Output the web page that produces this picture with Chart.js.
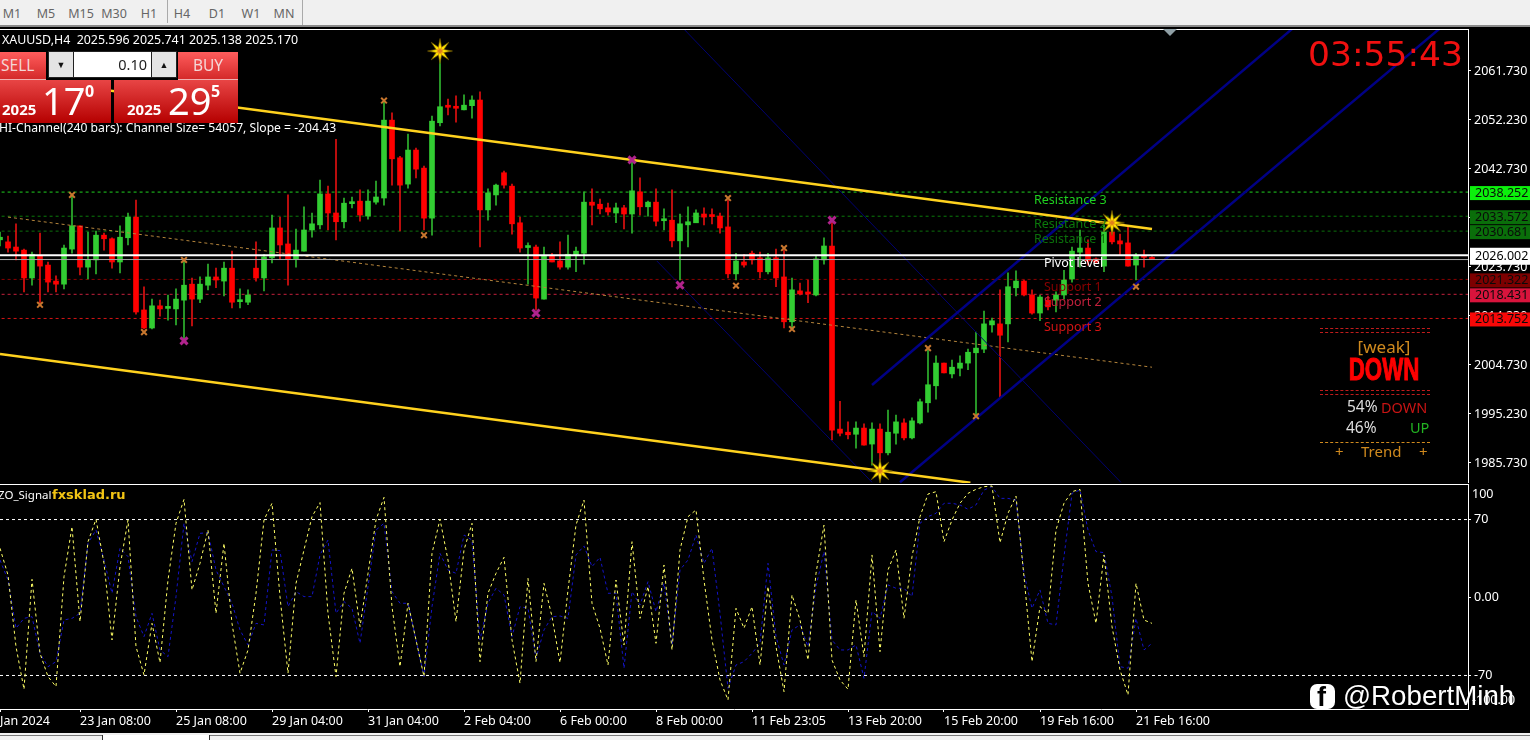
<!DOCTYPE html>
<html><head><meta charset="utf-8"><title>XAUUSD,H4</title>
<script src="https://cdn.jsdelivr.net/npm/chart.js@4"></script>
<style>
html,body{margin:0;padding:0;background:#000;width:1530px;height:740px;overflow:hidden;font-family:"Noto Sans",sans-serif}
canvas{position:absolute;left:0;display:block}
.a{position:absolute;white-space:nowrap;line-height:1}
#bar{position:absolute;left:0;top:0;width:1530px;height:25px;background:#f0f0f0;border-bottom:2px solid #8a8a8a}
#bar span{position:absolute;top:5px;font-size:12.5px;color:#666;transform:translateX(-50%)}
.red{position:absolute;background:linear-gradient(#e84545,#b50000);color:#fff}
.btn{position:absolute;background:linear-gradient(#ff5c5c,#d42a2a);color:#f4d6d6;font-size:15.5px;text-align:center;line-height:26px;border-bottom:1px solid #f0b0b0}
.sp{position:absolute;top:52px;height:25px;background:#e4e4e4;color:#111;font-size:9px;line-height:25px;text-align:center}
.eq{position:absolute;left:1320px;width:110px;height:5px;border-top:1.5px dashed #c01c1c;border-bottom:1.5px dashed #c01c1c;box-sizing:border-box}
</style></head><body>
<canvas id="priceChart" width="1530" height="454" style="top:29px;width:1530px;height:454px"></canvas>
<canvas id="oscChart" width="1530" height="254" style="top:484px;width:1530px;height:254px"></canvas>
<div id="bar">
<span style="left:12px">M1</span><span style="left:46px">M5</span><span style="left:81px">M15</span><span style="left:114px">M30</span><span style="left:149px">H1</span>
<span style="left:182px">H4</span><span style="left:217px">D1</span><span style="left:251px">W1</span><span style="left:284px">MN</span>
<div style="position:absolute;left:167px;top:0;width:1px;height:23px;background:#aaa"></div>
<div style="position:absolute;left:302px;top:0;width:1px;height:25px;background:#aaa"></div>
</div>
<div style="position:absolute;left:0;top:29px;width:1468px;height:1px;background:#fff"></div>
<div style="position:absolute;left:1163px;top:29px;width:0;height:0;border-left:7px solid transparent;border-right:7px solid transparent;border-top:7px solid #8f9fa5"></div>
<div class="a" style="left:2px;top:34px;color:#fff;font-size:12.4px">XAUUSD,H4&nbsp; 2025.596 2025.741 2025.138 2025.170</div>
<div class="a" style="left:-1px;top:122px;color:#fff;font-size:12.15px">HI-Channel(240 bars): Channel Size= 54057, Slope = -204.43</div>
<div class="btn" style="left:0;top:52px;width:46px;height:27px;text-align:left;text-indent:1px">SELL</div>
<div class="btn" style="left:178px;top:52px;width:60px;height:27px">BUY</div>
<div style="position:absolute;left:48px;top:51px;width:129px;height:27px;background:#222"></div>
<div class="sp" style="left:49px;width:24px">▼</div>
<div class="sp" style="left:152px;width:24px">▲</div>
<div class="a" style="left:74px;top:52px;width:77px;height:25px;background:#fff;color:#222;font-size:14.5px;line-height:25px;text-align:right;box-sizing:border-box;padding-right:4px">0.10</div>
<div class="red" style="left:0;top:80px;width:111px;height:43px"></div>
<div class="red" style="left:114px;top:80px;width:124px;height:43px"></div>
<div class="a" style="left:2px;top:102px;color:#fff;font-size:15px;font-weight:700">2025</div>
<div class="a" style="left:42px;top:81px;color:#fff;font-size:38px">17</div>
<div class="a" style="left:85px;top:83px;color:#fff;font-size:16px;font-weight:700">0</div>
<div class="a" style="left:127px;top:102px;color:#fff;font-size:15px;font-weight:700">2025</div>
<div class="a" style="left:168px;top:81px;color:#fff;font-size:38px">29</div>
<div class="a" style="left:211px;top:83px;color:#fff;font-size:16px;font-weight:700">5</div>
<div class="a" style="left:1308px;top:37px;color:#f01010;font-size:34.5px;font-family:'DejaVu Sans'">03:55:43</div>
<div class="eq" style="top:328px"></div>
<div class="a" style="left:1320px;width:130px;margin-left:-1px;top:338px;text-align:center;color:#d08a1e;font-size:17px">[weak]</div>
<div class="a" style="left:1320px;width:130px;margin-left:-1px;top:354px;text-align:center;color:#f00;font-size:31px;font-weight:700;font-family:'Liberation Sans';-webkit-text-stroke:1px #f00;transform:scaleX(.72)">DOWN</div>
<div class="eq" style="top:390px"></div>
<div class="a" style="left:1347px;top:399px;color:#ddd;font-size:15.5px">54%</div>
<div class="a" style="left:1381px;top:400px;color:#c81414;font-size:14.5px">DOWN</div>
<div class="a" style="left:1346px;top:420px;color:#ddd;font-size:15.5px">46%</div>
<div class="a" style="left:1410px;top:420px;color:#22b422;font-size:14.5px">UP</div>
<div style="position:absolute;left:1320px;top:442px;width:110px;border-top:1px dashed #d08a1e"></div>
<div class="a" style="left:1335px;top:444px;color:#d08a1e;font-size:15px">+</div>
<div class="a" style="left:1361px;top:444px;color:#d08a1e;font-size:15px">Trend</div>
<div class="a" style="left:1419px;top:444px;color:#d08a1e;font-size:15px">+</div>
<div class="a" style="left:-2px;top:489px;color:#fff;font-size:11.5px">ZO_Signal</div>
<div class="a" style="left:52px;top:488px;color:#f2c414;font-size:13px;font-weight:700;font-family:'DejaVu Sans'">fxsklad.ru</div>
<div style="position:absolute;left:1310px;top:684px;width:25px;height:25px;border-radius:7px;background:#fff"></div>
<div class="a" style="left:1317px;top:684px;color:#000;font-size:27px;font-weight:700;font-family:'Liberation Sans'">f</div>
<div class="a" style="left:1343px;top:682px;color:#fff;font-size:27.7px;font-family:'Liberation Sans'">@RobertMinh</div>
<div style="position:absolute;left:0;top:733px;width:1530px;height:7px;background:#f0f0f0"></div>
<div style="position:absolute;left:102px;top:735px;width:106px;height:5px;background:#fff;border-left:1px solid #333;border-right:1px solid #333"></div>
<div style="position:absolute;left:0;top:735px;width:102px;height:1px;background:#777"></div>
<div style="position:absolute;left:210px;top:735px;width:1320px;height:1px;background:#777"></div>
<script>
// ---- candle data (price units) ----
const opens=[2029.0,2028.6,2027.6,2027.0,2021.6,2025.9,2024.1,2021.0,2020.4,2027.2,2031.7,2023.7,2025.1,2029.9,2029.2,2024.7,2029.4,2033.4,2015.4,2011.9,2016.2,2015.7,2015.6,2017.3,2020.4,2017.5,2020.2,2021.8,2021.0,2023.5,2017.0,2016.9,2023.5,2021.6,2025.5,2031.3,2028.2,2025.3,2026.8,2030.9,2031.9,2037.9,2034.2,2032.5,2036.0,2036.5,2033.6,2036.3,2037.1,2052.2,2044.9,2039.8,2046.4,2042.9,2033.2,2051.7,2054.8,2054.6,2054.2,2055.0,2056.1,2034.8,2037.7,2042.0,2039.4,2032.3,2027.5,2027.6,2017.5,2025.9,2024.9,2023.7,2026.1,2026.4,2036.3,2035.9,2035.2,2034.2,2035.2,2034.0,2038.3,2035.4,2036.3,2032.7,2032.8,2028.8,2031.9,2032.3,2034.0,2033.6,2033.6,2031.5,2022.4,2024.7,2026.4,2025.5,2022.8,2025.5,2021.8,2013.1,2019.1,2018.6,2018.3,2025.1,2027.8,1992.3,1991.7,1991.3,1992.5,1989.4,1992.3,1987.7,1991.5,1993.5,1990.6,1993.5,1997.4,2000.7,2005.1,2003.0,2004.1,2005.1,2007.1,2007.8,2012.5,2012.7,2012.7,2019.7,2021.0,2018.3,2014.8,2017.3,2017.3,2018.3,2021.4,2026.6,2027.4,2025.3,2023.9,2030.5,2028.8,2028.4,2024.1,2025.8,2025.596];
const highs=[2030.5,2029.7,2032.1,2027.2,2026.6,2030.3,2024.7,2022.0,2028.0,2037.7,2031.7,2030.5,2030.7,2030.3,2029.4,2031.7,2034.2,2036.7,2019.9,2017.5,2017.3,2018.3,2019.5,2025.1,2021.6,2021.8,2024.3,2023.5,2024.7,2026.8,2019.5,2019.3,2028.6,2026.2,2033.8,2033.4,2037.7,2031.1,2035.4,2034.2,2040.6,2039.4,2048.5,2037.1,2037.3,2038.7,2038.7,2040.4,2056.1,2053.6,2045.2,2049.5,2046.8,2043.3,2053.0,2063.9,2056.3,2056.9,2057.1,2056.9,2057.7,2038.9,2039.8,2042.3,2039.8,2033.4,2028.4,2028.0,2027.6,2026.4,2028.6,2029.9,2027.6,2038.3,2038.9,2036.9,2036.1,2036.1,2035.7,2044.5,2041.0,2036.5,2038.9,2035.0,2038.7,2034.0,2035.4,2034.8,2035.2,2035.0,2034.2,2036.7,2026.4,2026.2,2026.8,2026.6,2026.4,2027.2,2027.0,2021.6,2020.6,2021.2,2025.9,2029.4,2032.8,1997.7,1993.7,1993.7,1993.3,1993.5,1993.3,1996.0,1995.0,1994.3,1994.5,1998.1,2007.6,2006.5,2005.1,2005.7,2006.5,2007.8,2011.1,2015.2,2013.8,2019.3,2022.6,2023.0,2021.2,2019.3,2018.3,2018.1,2018.9,2023.1,2027.6,2030.9,2029.0,2025.5,2031.9,2032.8,2030.1,2031.5,2026.4,2027.0,2025.741];
const lows=[2027.8,2026.6,2025.1,2018.9,2020.2,2016.8,2018.9,2018.9,2019.5,2026.4,2022.2,2021.4,2022.4,2027.0,2023.5,2022.6,2028.0,2014.6,2011.7,2011.7,2014.2,2013.4,2012.5,2009.6,2012.3,2016.8,2019.3,2019.7,2018.1,2015.8,2015.8,2016.4,2021.0,2019.1,2024.5,2025.3,2020.2,2023.7,2026.8,2029.5,2031.1,2030.9,2029.0,2031.3,2035.2,2032.6,2033.0,2035.9,2035.7,2039.6,2030.7,2039.0,2041.0,2030.9,2029.9,2051.1,2053.2,2051.8,2054.2,2052.6,2027.6,2032.8,2035.7,2039.0,2030.1,2026.6,2020.4,2015.4,2017.5,2024.7,2023.3,2023.3,2022.8,2024.3,2031.9,2034.0,2033.8,2032.3,2031.1,2030.3,2033.8,2033.6,2031.7,2030.9,2027.6,2021.2,2027.6,2032.3,2031.9,2032.1,2030.3,2021.6,2021.2,2023.7,2024.3,2021.6,2022.4,2019.9,2011.9,2011.9,2018.3,2016.8,2018.1,2024.3,1990.2,1991.0,1990.4,1988.6,1989.2,1985.3,1986.3,1987.3,1989.4,1990.2,1990.4,1993.3,1995.6,1998.1,2003.2,2002.2,2002.6,2003.8,1995.0,2007.1,2011.1,1998.5,2009.2,2018.1,2018.1,2014.6,2013.3,2015.4,2015.0,2017.5,2020.8,2023.7,2024.1,2024.5,2022.8,2028.2,2026.1,2023.9,2021.2,2023.7,2025.138];
const closes=[2029.5,2027.4,2026.8,2021.6,2026.2,2023.9,2020.8,2020.4,2027.4,2031.7,2023.7,2025.1,2029.9,2029.2,2024.7,2029.5,2033.4,2015.0,2011.9,2016.2,2015.6,2015.8,2017.5,2020.2,2017.5,2020.4,2021.8,2021.2,2023.5,2016.9,2017.1,2018.3,2021.6,2025.7,2031.3,2028.0,2025.3,2027.0,2030.9,2032.1,2037.9,2034.2,2032.5,2036.1,2036.1,2033.8,2036.5,2037.3,2052.2,2044.7,2039.6,2046.4,2042.7,2033.2,2052.0,2054.8,2054.7,2054.5,2055.1,2056.1,2034.8,2038.1,2039.6,2039.6,2032.1,2027.4,2027.6,2017.7,2025.9,2024.7,2023.7,2026.2,2026.8,2036.3,2035.7,2035.0,2034.4,2035.2,2034.0,2038.5,2035.4,2036.3,2032.6,2032.8,2028.8,2032.1,2032.5,2034.2,2033.4,2033.5,2031.3,2022.4,2024.9,2024.1,2025.1,2022.8,2025.5,2021.6,2013.1,2019.3,2018.5,2018.5,2025.3,2027.8,1992.1,1991.5,1991.2,1992.5,1989.2,1992.3,1987.7,1991.7,1993.7,1990.6,1993.9,1997.6,2000.9,2005.1,2003.2,2004.3,2005.1,2007.2,2008.0,2012.7,2013.3,2010.5,2019.9,2021.0,2018.3,2014.8,2017.9,2016.0,2018.3,2021.2,2026.8,2027.4,2024.9,2024.7,2030.5,2028.6,2028.2,2023.9,2025.9,2025.6,2025.170];

// ---- oscillator series ----
const oscYellow=[44.2,20.2,-44.1,-82.4,16.3,-50.1,-71.0,-80.0,18.7,63.6,-21.7,50.1,70.2,30.7,-38.1,27.7,69.6,-44.1,-69.5,-23.2,-58.5,15.7,66.6,88.1,6.8,30.7,60.6,-14.2,48.7,-23.2,-68.0,-47.1,3.8,69.6,84.6,0.8,-68.0,12.7,42.7,72.6,85.2,-14.2,-71.0,3.8,26.2,-26.1,21.7,69.6,89.9,-8.2,-62.1,-5.2,-38.1,-71.0,39.7,70.2,33.7,-21.7,42.7,66.6,-57.6,3.8,21.7,36.1,-38.1,-77.0,17.2,-57.6,12.7,-17.2,-58.5,6.8,65.1,87.5,-5.2,-27.6,-60.6,15.7,-42.6,50.1,-18.7,9.8,-41.1,29.2,-47.1,42.7,72.6,78.6,15.7,-38.1,-74.0,-92.0,-9.7,-27.6,-8.2,-60.6,9.8,-44.1,-84.5,2.3,-20.2,-56.1,21.7,65.1,-56.1,-74.0,-82.4,-2.2,-53.1,38.2,-48.6,24.7,42.7,-18.7,36.7,72.6,92.9,95.0,50.1,69.6,84.6,93.5,97.1,99.5,100.1,49.2,75.6,91.1,18.7,-57.6,-8.2,-14.2,60.6,84.6,95.0,97.1,12.7,-23.2,38.2,-26.1,-65.0,-87.5,12.7,-20.2,-23.2];
const oscBlue=[33.7,15.7,-27.6,-18.7,-17.2,-50.1,-62.1,-57.6,-20.2,-18.7,-14.2,48.7,60.6,33.7,3.8,44.2,36.7,-17.2,-35.1,-14.2,-47.1,-53.1,0.8,66.6,32.2,57.6,58.2,24.7,9.8,-5.2,-29.1,-42.6,-23.2,-24.6,42.7,42.1,-8.2,5.3,0.8,0.8,38.2,51.6,-14.2,-3.7,-9.7,-41.1,9.8,60.6,66.6,5.3,-5.2,-5.2,-38.1,-71.0,-8.2,39.7,24.7,21.7,56.1,51.6,-38.1,-5.2,8.3,2.3,-35.1,-8.2,-9.7,-54.6,-29.1,-17.2,-16.6,-18.7,38.2,46.3,27.7,36.1,3.8,3.8,-63.5,5.3,-6.7,14.2,-12.7,12.7,-42.6,24.7,33.7,56.1,30.7,44.2,-14.2,-81.5,-60.6,-57.6,-50.1,-41.1,30.7,-35.1,-60.6,-29.1,-24.6,-44.1,9.8,41.2,-38.1,-47.1,-47.1,-42.6,-72.5,-12.7,-18.7,11.3,8.3,8.3,0.8,66.6,72.6,75.6,84.6,84.6,83.1,79.2,83.1,96.5,99.5,89.0,89.0,87.5,21.7,-9.7,6.8,-23.2,-24.6,36.7,93.5,96.5,60.6,41.2,40.3,0.8,-62.1,-63.5,-18.7,-47.1,-41.1];

// ---- axes ----
const priceTicks=[2061.73,2052.23,2042.73,2033.23,2023.73,2014.23,2004.73,1995.23,1985.73];
const oscTicks=[70,0,-70];
const oscTickLabels=["70","0.00","-70"];
const oscEndValues=[100,-100];
const oscEndLabels=["100","-100.00"];
const xTickBars=[0,10,22,34,46,58,70,82,94,106,118,130,142];
const xTickLabels=["Jan 2024","23 Jan 08:00","25 Jan 08:00","29 Jan 04:00","31 Jan 04:00","2 Feb 04:00","6 Feb 00:00","8 Feb 00:00","11 Feb 23:05","13 Feb 20:00","15 Feb 20:00","19 Feb 16:00","21 Feb 16:00"];

// ---- levels ----
const levelValues=[2038.252,2033.572,2030.681,2026.002,2021.322,2018.431,2013.752];
const levelNames=["Resistance 3","Resistance 2","Resistance 1","Pivot level","Support 1","Support 2","Support 3"];
const levelColors=["#1fd01f","#0b7a0b","#0b6f0b","#ffffff","#8b0000","#c2203c","#d41414"];
const tagColors=["#0cf00c","#0a6e0a","#0a6e0a","#ffffff","#7d0000","#d8143c","#f80808"];
const lastPrice=2025.170;

// ---- channels: [bar, price] end points ----
const yellowTop=[[0,2060.76],[144,2031.1]];
const yellowBottom=[[0,2006.86],[121.3,1981.9]];
const midDotted=[[1,2033.4],[144,2004.3]];
const blueUpper=[[109,2000.85],[161.6,2070.0]];
const blueLower=[[112.5,1982.0],[180,2070.0]];
const thinA=[[85.4,2070.0],[140.1,1982.0]];
const thinB=[[82.1,2024.9],[109,1982.0]];

// ---- fractal markers: [bar, price] ----
const orangeMarks=[[9,2037.7],[5,2016.4],[18,2011.1],[23,2025.1],[48,2056.0],[53,2029.9],[91,2037.1],[92,2020.1],[98,2027.4],[99,2011.7],[116,2008.0],[122,1994.8],[142,2019.9]];
const magentaMarks=[[23,2009.4],[67,2014.8],[79,2044.5],[85,2020.2],[104,2032.8]];
const starMarks=[[55,2065.6],[110,1984.2],[139,2032.3]];

Chart.defaults.font.family='"Noto Sans",sans-serif';
Chart.defaults.font.size=12.5;
Chart.defaults.color='#fff';

const pts=a=>a.map(p=>({x:p[0],y:p[1]}));
function seg(data,color,width,dash,order){return {type:'line',data:pts(data),borderColor:color,borderWidth:width,borderDash:dash||[],pointRadius:0,order:order,fill:false,tension:0};}
const isUp=i=>closes[i]>=opens[i];
const noPad=s=>{s.paddingTop=0;s.paddingBottom=0;s.paddingLeft=0;s.paddingRight=0;};
const starImg=(()=>{const s=26,c=document.createElement('canvas');c.width=c.height=s;const g=c.getContext('2d');
 g.translate(s/2,s/2);g.beginPath();for(let k=0;k<16;k++){const r=k%2?4.2:12.5,t=k*Math.PI/8-Math.PI/2;g.lineTo(r*Math.cos(t),r*Math.sin(t));}g.closePath();
 g.fillStyle='#ffe600';g.fill();g.strokeStyle='#6a5200';g.lineWidth=.7;g.stroke();
 g.beginPath();for(let k=0;k<16;k++){const r=k%2?1.8:6,t=k*Math.PI/8-Math.PI/2+Math.PI/8;g.lineTo(r*Math.cos(t),r*Math.sin(t));}g.closePath();g.fillStyle='#e0801a';g.fill();return c;})();

const levelDatasets=levelValues.map((v,i)=>i===3?null:seg([[0.2,v],[183.5,v]],levelColors[i],1,[3,3],50)).filter(Boolean);
const bars=opens.map((_,i)=>i);

new Chart(document.getElementById('priceChart'),{
 data:{datasets:[
  ...levelDatasets,
  {type:'bar',data:bars.map(i=>({x:i,y:[lows[i],highs[i]]})),backgroundColor:bars.map(i=>isUp(i)?'#2fb52f':'#e01010'),barThickness:1,grouped:false,order:30},
  {type:'bar',data:bars.map(i=>({x:i,y:[opens[i],closes[i]]})),backgroundColor:bars.map(i=>isUp(i)?'#32cd32':'#ff0000'),barThickness:5,grouped:false,minBarLength:2,order:29},
  seg(midDotted,'#b5853c',1,[3,3],20),
  seg(thinA,'#000070',1,[],19),
  seg(thinB,'#000070',1,[],19),
  seg(blueUpper,'#000085',2.5,[],18),
  seg(blueLower,'#000085',2.5,[],18),
  seg(yellowTop,'#ffd21e',2.5,[],17),
  seg(yellowBottom,'#ffd21e',2.5,[],17),
  seg([[0,lastPrice],[183.5,lastPrice]],'#a8a8a8',1,[],16),
  seg([[0,levelValues[3]],[183.5,levelValues[3]]],'#ffffff',2,[],15),
  {type:'scatter',data:pts(orangeMarks),pointStyle:'crossRot',pointRadius:4,borderColor:'#c9772e',pointBorderWidth:2,order:6},
  {type:'scatter',data:pts(magentaMarks),pointStyle:'crossRot',pointRadius:5,borderColor:'#b0238c',pointBorderWidth:3,order:5},
  {type:'scatter',data:pts(starMarks),pointStyle:starImg,pointRadius:13,order:4}
 ]},
 options:{responsive:false,animation:false,devicePixelRatio:1,layout:{padding:0,autoPadding:false},
  plugins:{legend:{display:false},tooltip:{enabled:false}},
  scales:{
   x:{type:'linear',display:false,min:0,max:183.5,offset:false,grid:{display:false}},
   y:{type:'linear',position:'right',min:1981.85,max:2069.87,
     afterFit:s=>{s.width=62;noPad(s)},
     afterBuildTicks:s=>{s.ticks=priceTicks.map(v=>({value:v}))},
     border:{color:'#fff',width:1},
     grid:{drawOnChartArea:false,color:'#fff',tickLength:3},
     ticks:{color:'#fff',padding:3,autoSkip:false,callback:v=>v.toFixed(3)}}
  }},
 plugins:[{id:'levelText',afterDatasetsDraw(c){const g=c.ctx,y=c.scales.y;g.save();g.font='12.5px "Noto Sans"';g.textBaseline='middle';g.textAlign='left';
   levelNames.forEach((t,i)=>{g.fillStyle=levelColors[i];g.fillText(t,i<3?1034:1044,y.getPixelForValue(levelValues[i])+8.5);});g.restore();},
  afterDraw(c){const g=c.ctx,y=c.scales.y;g.save();g.font='12.5px "Noto Sans"';g.textBaseline='middle';g.textAlign='left';
   levelValues.forEach((v,i)=>{const p=y.getPixelForValue(v)+1,h=i===3?17:14;g.fillStyle=tagColors[i];g.fillRect(1470,p-h/2,60,h);g.fillStyle=i===3?'#000':'#0a0a0a';g.fillText(v.toFixed(3),1475,p);});g.restore();}}]
});

new Chart(document.getElementById('oscChart'),{
 data:{datasets:[
  seg([[0,70],[183.5,70]],'#fff',1,[3,3],3),
  seg([[0,-70],[183.5,-70]],'#fff',1,[3,3],3),
  {type:'line',data:oscBlue.map((v,i)=>({x:i,y:v})),borderColor:'#1414c8',borderWidth:1,borderDash:[3,3],pointRadius:0,tension:0,order:2},
  {type:'line',data:oscYellow.map((v,i)=>({x:i,y:v})),borderColor:'#ffff66',borderWidth:1,borderDash:[3,3],pointRadius:0,tension:0,order:1}
 ]},
 options:{responsive:false,animation:false,devicePixelRatio:1,layout:{padding:0,autoPadding:false},
  plugins:{legend:{display:false},tooltip:{enabled:false}},
  scales:{
   x:{type:'linear',min:0,max:183.5,
     afterFit:s=>{s.height=29;noPad(s)},
     afterBuildTicks:s=>{s.ticks=xTickBars.map(v=>({value:v}))},
     border:{color:'#fff',width:1},
     grid:{drawOnChartArea:false,color:'#fff',tickLength:3},
     ticks:{color:'#fff',align:'start',padding:2,autoSkip:false,maxRotation:0,callback:v=>xTickLabels[xTickBars.indexOf(v)]}},
   y:{type:'linear',position:'right',min:-100.1,max:101.9,
     afterFit:s=>{s.width=62;noPad(s)},
     afterBuildTicks:s=>{s.ticks=oscTicks.map(v=>({value:v}))},
     border:{color:'#fff',width:1},
     grid:{drawOnChartArea:false,color:'#fff',tickLength:3},
     ticks:{color:'#fff',padding:3,autoSkip:false,callback:v=>oscTickLabels[oscTicks.indexOf(v)]}}
  }},
 plugins:[{id:'oscEnds',afterDraw(c){const g=c.ctx,y=c.scales.y;g.save();g.font='12.5px "Noto Sans"';g.fillStyle='#fff';g.textBaseline='middle';
   oscEndValues.forEach((v,i)=>g.fillText(oscEndLabels[i],1472,y.getPixelForValue(v)+(i?-8:8)));
   g.fillRect(0,c.chartArea.top,1468,1);g.restore();}}]
});
</script>
</body></html>
